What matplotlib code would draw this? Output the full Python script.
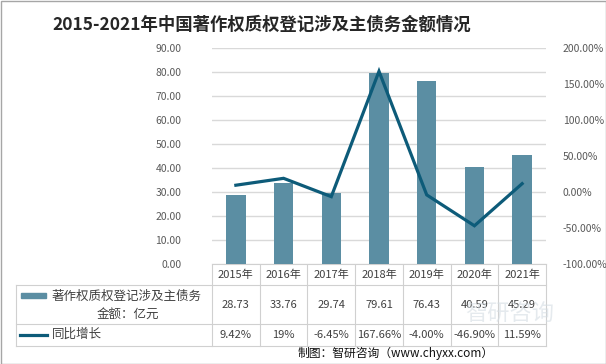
import matplotlib
matplotlib.use('Agg')
import matplotlib.pyplot as plt
from matplotlib.patches import Rectangle

plt.rcParams['font.family'] = ['Noto Sans CJK SC', 'DejaVu Sans']

# data
years = ['2015年', '2016年', '2017年', '2018年', '2019年', '2020年', '2021年']
amount = [28.73, 33.76, 29.74, 79.61, 76.43, 40.59, 45.29]
growth = [9.42, 19, -6.45, 167.66, -4.00, -46.90, 11.59]
growth_labels = ['9.42%', '19%', '-6.45%', '167.66%', '-4.00%', '-46.90%', '11.59%']
bar_name = '著作权质权登记涉及主债务'
bar_name2 = '金额：亿元'
line_name = '同比增长'

BAR_C = '#5b8ea3'
LINE_C = '#0d5b79'
TXT = '#404040'
TICK = '#595959'
GRID = '#d9d9d9'

W, H = 606, 364
fig = plt.figure(figsize=(W / 100, H / 100), dpi=100)

# plot area in pixels
L, R, T, B = 212, 546, 48, 264
ax = fig.add_axes([L / W, 1 - B / H, (R - L) / W, (B - T) / H])
n = len(years)
x = list(range(n))
ax.bar(x, amount, width=0.41, color=BAR_C, zorder=2)
ax.set_xlim(-0.5, n - 0.5)
ax.set_ylim(0, 90)
ax.set_yticks([i * 10 for i in range(10)])
ax.set_yticklabels([f'{i * 10:.2f}' for i in range(10)])
ax.yaxis.grid(True, color=GRID, linewidth=1)
ax.set_axisbelow(True)
ax.set_xticks([])
for s in ax.spines.values():
    s.set_visible(False)
ax.tick_params(axis='y', length=0, labelsize=7.5, labelcolor=TICK, pad=22)

ax2 = ax.twinx()
ax2.plot(x, growth, color=LINE_C, linewidth=2.3, zorder=3, solid_joinstyle='miter')
ax2.set_ylim(-100, 200)
ax2.set_yticks(range(-100, 201, 50))
ax2.set_yticklabels([f'{v:.2f}%' for v in range(-100, 201, 50)])
ax2.tick_params(axis='y', length=0, labelsize=7.5, labelcolor=TICK, pad=12)
for s in ax2.spines.values():
    s.set_visible(False)

# overlay in pixel coords for the data table
ov = fig.add_axes([0, 0, 1, 1], zorder=-1)
ov.set_xlim(0, W)
ov.set_ylim(H, 0)
ov.axis('off')

lc = '#d0d0d0'
cw = (R - L) / n
r0, r1, r2, r3 = 264, 285, 324, 346
ov.plot([L, R], [r0, r0], color=lc, lw=0.8)
ov.plot([16, R], [r1, r1], color=lc, lw=0.8)
ov.plot([16, R], [r2, r2], color=lc, lw=0.8)
ov.plot([16, R], [r3, r3], color=lc, lw=0.8)
ov.plot([16, 16], [r1, r3], color=lc, lw=0.8)
for i in range(n + 1):
    ov.plot([L + i * cw, L + i * cw], [r0, r3], color=lc, lw=0.8)

for i in range(n):
    cx = L + (i + 0.5) * cw
    ov.text(cx, (r0 + r1) / 2, years[i], ha='center', va='center', fontsize=8, color=TXT)
    ov.text(cx, (r1 + r2) / 2, f'{amount[i]:.2f}', ha='center', va='center', fontsize=8, color=TXT)
    ov.text(cx, (r2 + r3) / 2, growth_labels[i], ha='center', va='center', fontsize=8, color=TXT)

# legend keys inside table
ov.add_patch(Rectangle((21, 293), 25, 5, color=BAR_C))
ov.text(52, 296, bar_name, ha='left', va='center', fontsize=9, color=TXT)
ov.text(128, 314, bar_name2, ha='center', va='center', fontsize=9, color=TXT)
ov.plot([20, 47], [334.5, 334.5], color=LINE_C, lw=2.3)
ov.text(52, 334, line_name, ha='left', va='center', fontsize=9, color=TXT)

# watermark
ov.text(510, 314, '智研咨询', ha='center', va='center', fontsize=16, color='#d5dde3', alpha=0.6)

# title and source
fig.text(262 / W, 1 - 25 / H, '2015-2021年中国著作权质权登记涉及主债务金额情况',
         ha='center', va='center', fontsize=12.5, fontweight='bold', color='#262626')
fig.text(396 / W, 1 - 353 / H, '制图：智研咨询（www.chyxx.com）',
         ha='center', va='center', fontsize=8.5, color='#111111')

# outer frame
ov.add_patch(Rectangle((0.5, 0.5), W - 1, H - 1, fill=False, edgecolor='#a6a6a6', lw=1))

fig.savefig('out.png', dpi=100)
